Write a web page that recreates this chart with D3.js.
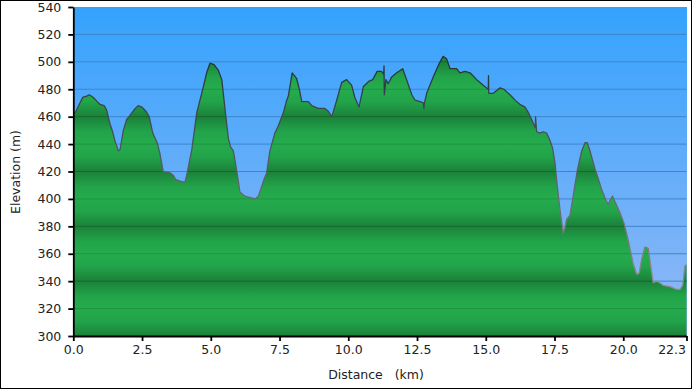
<!DOCTYPE html>
<html>
<head>
<meta charset="utf-8">
<script src="https://cdn.jsdelivr.net/npm/d3@7"></script>
<style>
  body { margin: 0; background: #fff; }
  text { font-family: "DejaVu Sans", Verdana, sans-serif; }
</style>
</head>
<body>
<svg id="graph"></svg>
<script>
// distance along the route (km) and elevation (m)
let distances = [
    0.00, 0.10, 0.24, 0.34, 0.49, 0.58, 0.73, 0.87, 0.97, 1.12,
    1.21, 1.33, 1.43, 1.52, 1.64, 1.70, 1.82, 1.94, 2.06, 2.21,
    2.36, 2.49, 2.64, 2.76, 2.89, 3.05, 3.15, 3.27, 3.52, 3.64,
    3.73, 3.88, 4.06, 4.12, 4.31, 4.49, 4.67, 4.85, 4.97, 5.12,
    5.27, 5.40, 5.52, 5.64, 5.72, 5.82, 5.94, 6.06, 6.24, 6.43,
    6.61, 6.73, 6.85, 6.93, 7.03, 7.15, 7.33, 7.45, 7.64, 7.76,
    7.82, 7.96, 8.12, 8.22, 8.31, 8.55, 8.67, 8.91, 9.15, 9.27,
    9.40, 9.58, 9.76, 9.94, 10.12, 10.24, 10.39, 10.55, 10.76, 10.89,
    11.05, 11.21, 11.29, 11.30, 11.31, 11.37, 11.45, 11.58, 11.76, 11.98,
    12.12, 12.31, 12.43, 12.61, 12.73, 12.75, 12.77, 12.85, 13.09, 13.31,
    13.45, 13.58, 13.70, 13.94, 14.06, 14.24, 14.43, 14.67, 14.91, 15.03,
    15.09, 15.10, 15.11, 15.27, 15.52, 15.66, 15.88, 16.12, 16.24, 16.43,
    16.55, 16.67, 16.73, 16.80, 16.81, 16.85, 16.97, 17.09, 17.21, 17.33,
    17.43, 17.52, 17.60, 17.70, 17.82, 17.88, 17.94, 18.06, 18.18, 18.33,
    18.49, 18.61, 18.69, 18.79, 18.97, 19.09, 19.21, 19.37, 19.45, 19.52,
    19.61, 19.70, 19.88, 20.03, 20.18, 20.36, 20.49, 20.58, 20.67, 20.79,
    20.91, 21.00, 21.09, 21.21, 21.31, 21.45, 21.70, 21.94, 22.06, 22.16,
    22.24, 22.30
]
let elevations = [
    462, 464, 470, 474, 475, 476, 474, 471, 469, 468,
    465, 455, 449, 442, 435, 436, 450, 458, 461, 465,
    468, 467, 464, 460, 448, 441, 433, 420, 419, 417,
    414, 413, 412, 417, 436, 463, 477, 492, 499, 498,
    494, 487, 465, 444, 438, 435, 421, 405, 402, 401,
    400, 402, 409, 414, 419, 435, 448, 453, 463, 472,
    475, 492, 488, 480, 471, 471, 468, 466, 466, 464,
    460, 472, 485, 487, 483, 474, 467, 482, 486, 487,
    493, 493, 491, 497, 476, 487, 484, 489, 492, 495,
    487, 476, 472, 471, 470, 466, 470, 477, 489, 499,
    504, 502, 495, 495, 492, 493, 492, 487, 483, 481,
    480, 490, 477, 477, 481, 480, 476, 471, 469, 467,
    463, 458, 455, 452, 460, 449, 448, 449, 448, 443,
    437, 426, 409, 392, 375, 379, 385, 388, 402, 421,
    435, 441, 441, 435, 422, 415, 407, 399, 396, 399,
    402, 398, 390, 382, 370, 353, 345, 346, 356, 365,
    364, 351, 339, 340, 339, 337, 336, 334, 334, 337,
    351, 352
]
let yTicks = [300, 320, 340, 360, 380, 400, 420, 440, 460, 480, 500, 520, 540]
let xTicks = [0, 2.5, 5, 7.5, 10, 12.5, 15, 17.5, 20, 22.3]

let values = distances.map((d, i) => ({ dist: d, ele: elevations[i] }))

let width = 692
let height = 389
let plotLeft = 73.3
let plotRight = 686.5
let plotTop = 7
let plotBottom = 336

let svg = d3.select('#graph')
let xScale
let yScale

const drawCanvas = () => {
    svg.attr('width', width).attr('height', height)
    svg.append('rect')
        .attr('x', 0.5).attr('y', 0.5)
        .attr('width', width - 1).attr('height', height - 1)
        .attr('fill', '#fff').attr('stroke', '#000')
}

const getScales = () => {
    xScale = d3.scaleLinear().domain([0, 22.3]).range([plotLeft, plotRight])
    yScale = d3.scaleLinear().domain([300, 540]).range([plotBottom, plotTop])
}

const makeGradients = () => {
    let defs = svg.append('defs')

    let sky = defs.append('linearGradient').attr('id', 'sky')
        .attr('x1', 0).attr('y1', 0).attr('x2', 0).attr('y2', 1)
    sky.append('stop').attr('offset', '0%').attr('stop-color', '#34a2fd')
    sky.append('stop').attr('offset', '100%').attr('stop-color', '#95b9f6')

    // bright at 320, 360, 400 ... dark at 300, 340, 380 ...
    let green = defs.append('linearGradient').attr('id', 'green')
        .attr('gradientUnits', 'userSpaceOnUse')
        .attr('spreadMethod', 'reflect')
        .attr('x1', 0).attr('x2', 0)
        .attr('y1', yScale(320)).attr('y2', yScale(300))
    green.append('stop').attr('offset', '0%').attr('stop-color', '#25ab4d')
    green.append('stop').attr('offset', '45%').attr('stop-color', '#22a44a')
    green.append('stop').attr('offset', '100%').attr('stop-color', '#1b8139')

    let edge = defs.append('linearGradient').attr('id', 'edge')
        .attr('gradientUnits', 'userSpaceOnUse')
        .attr('x1', 0).attr('x2', 0)
        .attr('y1', yScale(500)).attr('y2', yScale(340))
    edge.append('stop').attr('offset', '0%').attr('stop-color', '#23343a')
    edge.append('stop').attr('offset', '100%').attr('stop-color', '#8c8c8c')

    defs.append('clipPath').attr('id', 'under')
        .append('path')
        .attr('d', d3.area().x(d => xScale(d.dist)).y0(plotBottom).y1(d => yScale(d.ele))(values))
}

const drawPlot = () => {
    svg.append('rect')
        .attr('x', plotLeft).attr('y', plotTop)
        .attr('width', plotRight - plotLeft + 0.5).attr('height', plotBottom - plotTop)
        .attr('fill', 'url(#sky)')

    svg.append('g').selectAll('line')
        .data(yTicks.slice(1, -1))
        .enter().append('line')
        .attr('x1', plotLeft).attr('x2', plotRight)
        .attr('y1', d => yScale(d)).attr('y2', d => yScale(d))
        .attr('stroke', '#3d86cb').attr('stroke-width', 1)

    let area = d3.area()
        .x(d => xScale(d.dist))
        .y0(plotBottom)
        .y1(d => yScale(d.ele))
    svg.append('path')
        .datum(values)
        .attr('d', area)
        .attr('fill', 'url(#green)')

    // grid inside the green
    svg.append('g').attr('clip-path', 'url(#under)')
        .selectAll('line')
        .data(yTicks.slice(1, -1))
        .enter().append('line')
        .attr('x1', plotLeft).attr('x2', plotRight)
        .attr('y1', d => yScale(d)).attr('y2', d => yScale(d))
        .attr('stroke', d => (d - 300) % 40 == 0 ? 'rgba(10,70,30,0.4)' : 'rgba(20,110,50,0.4)')
        .attr('stroke-width', 1)

    let line = d3.line()
        .x(d => xScale(d.dist))
        .y(d => yScale(d.ele))
    svg.append('path')
        .datum(values)
        .attr('d', line)
        .attr('fill', 'none')
        .attr('stroke', 'url(#edge)')
        .attr('stroke-width', 1.3)
        .attr('stroke-linejoin', 'round')
}

const generateAxis = () => {
    let yAxis = d3.axisLeft(yScale)
        .tickValues(yTicks)
        .tickSize(5)
        .tickSizeOuter(0)
        .tickPadding(7)
        .tickFormat(d3.format('d'))
    let gy = svg.append('g')
        .attr('id', 'y-axis')
        .attr('transform', `translate(${plotLeft}, 0)`)
        .call(yAxis)

    let xAxis = d3.axisBottom(xScale)
        .tickValues(xTicks)
        .tickSize(5)
        .tickSizeOuter(0)
        .tickPadding(4)
        .tickFormat(d3.format('.1f'))
    let gx = svg.append('g')
        .attr('id', 'x-axis')
        .attr('transform', `translate(0, ${plotBottom})`)
        .call(xAxis)

    ;[gx, gy].forEach(g => {
        g.select('.domain').attr('stroke', '#000').attr('stroke-width', 1.8)
        g.selectAll('.tick line').attr('stroke', '#000').attr('stroke-width', 1.8)
        g.selectAll('.tick text')
            .attr('fill', '#222')
            .style('font-size', '12.5px')
            .style('font-family', '"DejaVu Sans", Verdana, sans-serif')
    })

    // last label sits inside the frame, ending at its tick
    gx.selectAll('.tick text')
        .filter(d => d == 22.3)
        .attr('text-anchor', 'end')
        .attr('x', -1)

    svg.append('text')
        .attr('transform', `translate(20, 172) rotate(-90)`)
        .attr('text-anchor', 'middle')
        .attr('fill', '#222')
        .style('font-size', '12.5px')
        .text('Elevation (m)')

    svg.append('text')
        .attr('x', 376).attr('y', 379)
        .attr('text-anchor', 'middle')
        .attr('fill', '#222')
        .style('font-size', '12.5px')
        .style('white-space', 'pre')
        .text('Distance   (km)')
}

drawCanvas()
getScales()
makeGradients()
drawPlot()
generateAxis()
</script>
</body>
</html>
